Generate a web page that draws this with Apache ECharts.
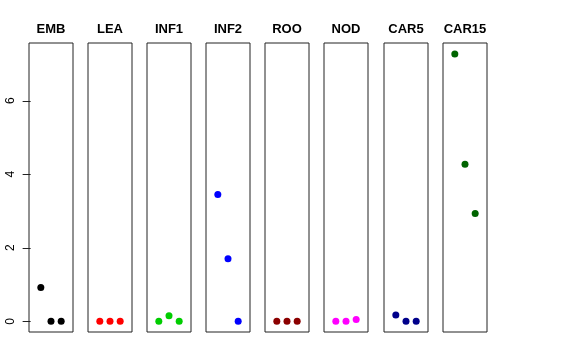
<!DOCTYPE html>
<html><head><meta charset="utf-8">
<script src="https://cdn.jsdelivr.net/npm/echarts@6/dist/echarts.min.js"></script>
<style>html,body{margin:0;padding:0;background:#fff}#c{width:576px;height:360px}</style>
</head><body><div id="c"></div>
<script>
const panels = ['EMB','LEA','INF1','INF2','ROO','NOD','CAR5','CAR15'];
const colors = ['#000000','#FF0000','#00CD00','#0000FF','#8B0000','#FF00FF','#00008B','#006400'];
const values = [
  [0.92, 0, 0],
  [0, 0, 0],
  [0, 0.15, 0],
  [3.45, 1.70, 0],
  [0, 0, 0],
  [0, 0, 0.05],
  [0.17, 0, 0],
  [7.27, 4.27, 2.93]
];
const positions = [1, 2, 3];
const yTicks = [0, 2, 4, 6];

const lefts = [29, 88, 147, 206, 265, 324, 384, 443];
const W = 44, TOP = 43, H = 289;
const yMin = -0.2912, yMax = 7.5712;

const grid = [], xAxis = [], yAxis = [], series = [], title = [];
panels.forEach((p, i) => {
  grid.push({left: lefts[i], top: TOP, width: W, height: H, show: true, borderColor: '#222', borderWidth: 1, backgroundColor: 'transparent', containLabel: false});
  xAxis.push({type: 'value', gridIndex: i, min: -0.16, max: 4.16, show: false});
  yAxis.push({
    type: 'value', gridIndex: i, min: yMin, max: yMax, show: i === 0,
    splitLine: {show: false},
    axisLine: {show: false},
    axisTick: {show: true, length: 8, lineStyle: {color: '#222'}, customValues: yTicks},
    axisLabel: {show: true, rotate: 90, margin: 12, fontSize: 12, color: '#000', fontFamily: 'Liberation Sans', customValues: yTicks, formatter: v => String(v)}
  });
  series.push({
    type: 'scatter', xAxisIndex: i, yAxisIndex: i,
    symbolSize: 7, itemStyle: {color: colors[i], opacity: 1},
    data: positions.map((x, k) => [x, values[i][k]]),
    animation: false, silent: true
  });
  title.push({
    text: p, left: lefts[i] + W / 2, top: 23, textAlign: 'center', padding: 0,
    textStyle: {fontSize: 13, fontWeight: 'bold', color: '#000', fontFamily: 'Liberation Sans'}
  });
});

const chart = echarts.init(document.getElementById('c'), null, {renderer: 'canvas'});
chart.setOption({animation: false, title, grid, xAxis, yAxis, series});
</script></body></html>
